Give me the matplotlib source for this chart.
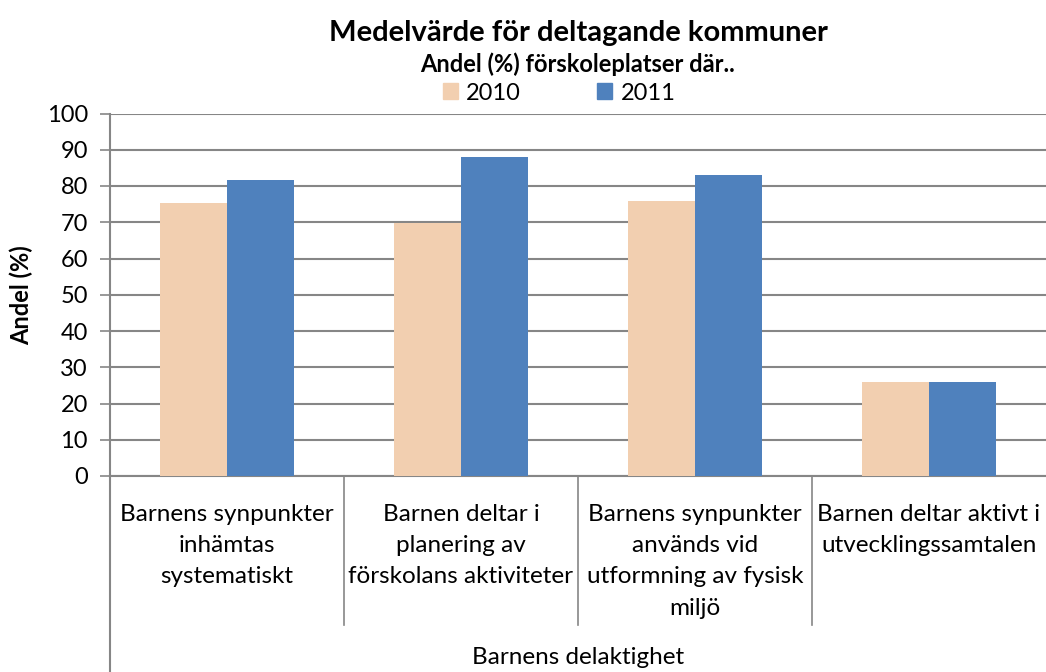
import numpy as np
import matplotlib.pyplot as plt
from matplotlib.patches import Rectangle

plt.rcParams['font.family'] = ['Lato', 'DejaVu Sans']

kategorier = ['Barnens synpunkter\ninhämtas\nsystematiskt',
              'Barnen deltar i\nplanering av\nförskolans aktiviteter',
              'Barnens synpunkter\nanvänds vid\nutformning av fysisk\nmiljö',
              'Barnen deltar aktivt i\nutvecklingssamtalen']
grupp = 'Barnens delaktighet'
ar = ['2010', '2011']
v2010 = [75.4, 69.9, 75.9, 25.8]
v2011 = [81.6, 88.1, 83.0, 26.0]

farg = ['#F2CFB0', '#4F81BD']
gra = '#868686'

fig = plt.figure(figsize=(10.46, 6.72), dpi=100)
ax = fig.add_axes([110/1046, (672-476)/672, 936/1046, 362.5/672])

x = np.arange(len(kategorier))
w = 0.286
ax.bar(x - w/2, v2010, w, color=farg[0], zorder=3)
ax.bar(x + w/2, v2011, w, color=farg[1], zorder=3)

ax.set_xlim(-0.5, len(kategorier) - 0.5)
ax.set_ylim(0, 100)
ax.set_yticks(range(0, 101, 10))
ax.yaxis.grid(True, color=gra, linewidth=1.5, zorder=0)
ax.tick_params(axis='y', labelsize=17, length=7, width=1.2, color=gra, pad=9)
ax.set_xticks([])
for s in ['top', 'right']:
    ax.spines[s].set_visible(False)
ax.spines['left'].set_color(gra)
ax.spines['left'].set_linewidth(1.5)
ax.spines['bottom'].set_color(gra)
ax.spines['bottom'].set_linewidth(1.5)

ax.set_ylabel('Andel (%)', fontsize=17, fontweight='bold')
ax.yaxis.set_label_coords(-77/936, 0.5)

# kategorinivåer under axeln
for i, k in enumerate(kategorier):
    ax.text(i, -0.077, k, transform=ax.get_xaxis_transform(), ha='center', va='top',
            fontsize=17.5, linespacing=1.6)
for i in range(1, len(kategorier)):
    ax.plot([i - 0.5, i - 0.5], [0, -0.411], transform=ax.get_xaxis_transform(),
            color=gra, linewidth=1.2, clip_on=False)
ax.plot([-0.5, -0.5], [0, -0.55], transform=ax.get_xaxis_transform(),
        color=gra, linewidth=1.5, clip_on=False)
ax.text(0.5, -0.5, grupp, transform=ax.transAxes, ha='center', va='center', fontsize=17.5)

fig.text(578/1046, 1 - 33/672, 'Medelvärde för deltagande kommuner', ha='center', va='center',
         fontsize=21, fontweight='bold')
fig.text(578/1046, 1 - 64/672, 'Andel (%) förskoleplatser där..', ha='center', va='center',
         fontsize=17, fontweight='bold')

handles = [Rectangle((0, 0), 1, 1, color=c) for c in farg]
fig.legend(handles, ar, loc='center', bbox_to_anchor=(559/1046, 1 - 93/672), ncol=2,
           frameon=False, fontsize=17, handlelength=0.65, handleheight=0.65,
           handletextpad=0.35, columnspacing=3.2, borderpad=0)

fig.savefig('out.png', dpi=100)
